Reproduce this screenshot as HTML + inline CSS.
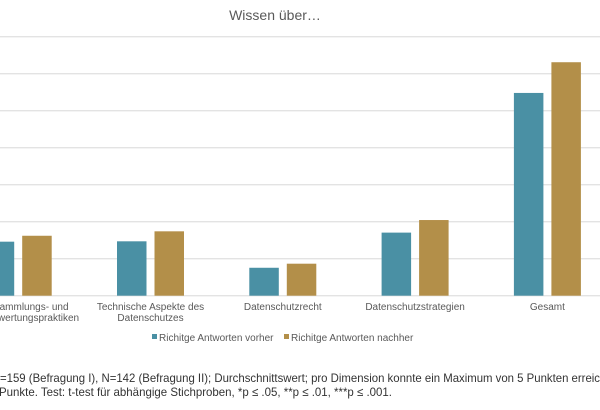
<!DOCTYPE html>
<html><head><meta charset="utf-8"><style>
html,body{margin:0;padding:0;background:#fff;width:600px;height:410px;overflow:hidden}
svg{display:block;font-family:"Liberation Sans",Arial,sans-serif}
</style></head><body>
<svg id="chart" width="600" height="410" viewBox="0 0 600 410">
<text x="275" y="20" text-anchor="middle" font-size="14" fill="#595959">Wissen über…</text>
<g id="grid"></g>
<g id="bars"></g>
<g id="cats"></g>
<g>
 <g><rect x="152" y="334" width="5" height="5" fill="#4a90a4"/><text x="159" y="341" font-size="10" fill="#595959">Richitge Antworten vorher</text></g>
 <g><rect x="284" y="334" width="5" height="5" fill="#b38f49"/><text x="291" y="341" font-size="10" fill="#595959">Richitge Antworten nachher</text></g>
</g>
<g font-size="12" fill="#333">
 <text x="-9" y="382">N</text>
 <text x="0" y="382" textLength="600" lengthAdjust="spacingAndGlyphs">=159 (Befragung I), N=142 (Befragung II); Durchschnittswert; pro Dimension konnte ein Maximum von 5 Punkten erreic</text>
 <text x="-1" y="396" textLength="393" lengthAdjust="spacingAndGlyphs">Punkte. Test: t-test für abhängige Stichproben, *p ≤ .05, **p ≤ .01, ***p ≤ .001.</text>
</g>
</svg>
<script>
const categories=[["Datensammlungs- und","Datenverwertungspraktiken"],["Technische Aspekte des","Datenschutzes"],["Datenschutzrecht"],["Datenschutzstrategien"],["Gesamt"]];
const vorher=[2.92,2.94,1.51,3.41,10.96];
const nachher=[3.24,3.48,1.73,4.09,12.62];
const ticks=[0,2,4,6,8,10,12,14];
const NS="http://www.w3.org/2000/svg";
const base=295.7, pxPerUnit=18.5, firstCenter=18.2, step=132.3, bw=29.5, gap=8;
const y=v=>base-v*pxPerUnit;
const xc=i=>firstCenter+i*step;
function mk(t,a,p){const e=document.createElementNS(NS,t);for(const k in a)e.setAttribute(k,a[k]);p.appendChild(e);return e;}
const grid=document.getElementById('grid');
ticks.forEach(t=>{
 const l=mk('line',{x1:0,x2:600,y1:y(t),y2:y(t),stroke:'#e3e3e3','stroke-width':1.3},grid);
 
 
});
const bars=document.getElementById('bars');
categories.forEach((c,i)=>{
 const b=mk('rect',{x:xc(i)-gap/2-bw,y:y(vorher[i]),width:bw,height:vorher[i]*pxPerUnit,fill:'#4a90a4'},bars);
 
 
 const g=mk('rect',{x:xc(i)+gap/2,y:y(nachher[i]),width:bw,height:nachher[i]*pxPerUnit,fill:'#b38f49'},bars);
 
 
 c.forEach((ln,j)=>{
  const t=mk('text',{x:xc(i),y:310+j*11,'text-anchor':'middle','font-size':10,fill:'#595959'},document.getElementById('cats'));
  t.textContent=ln;
  
  
 });
});
</script>
</body></html>
